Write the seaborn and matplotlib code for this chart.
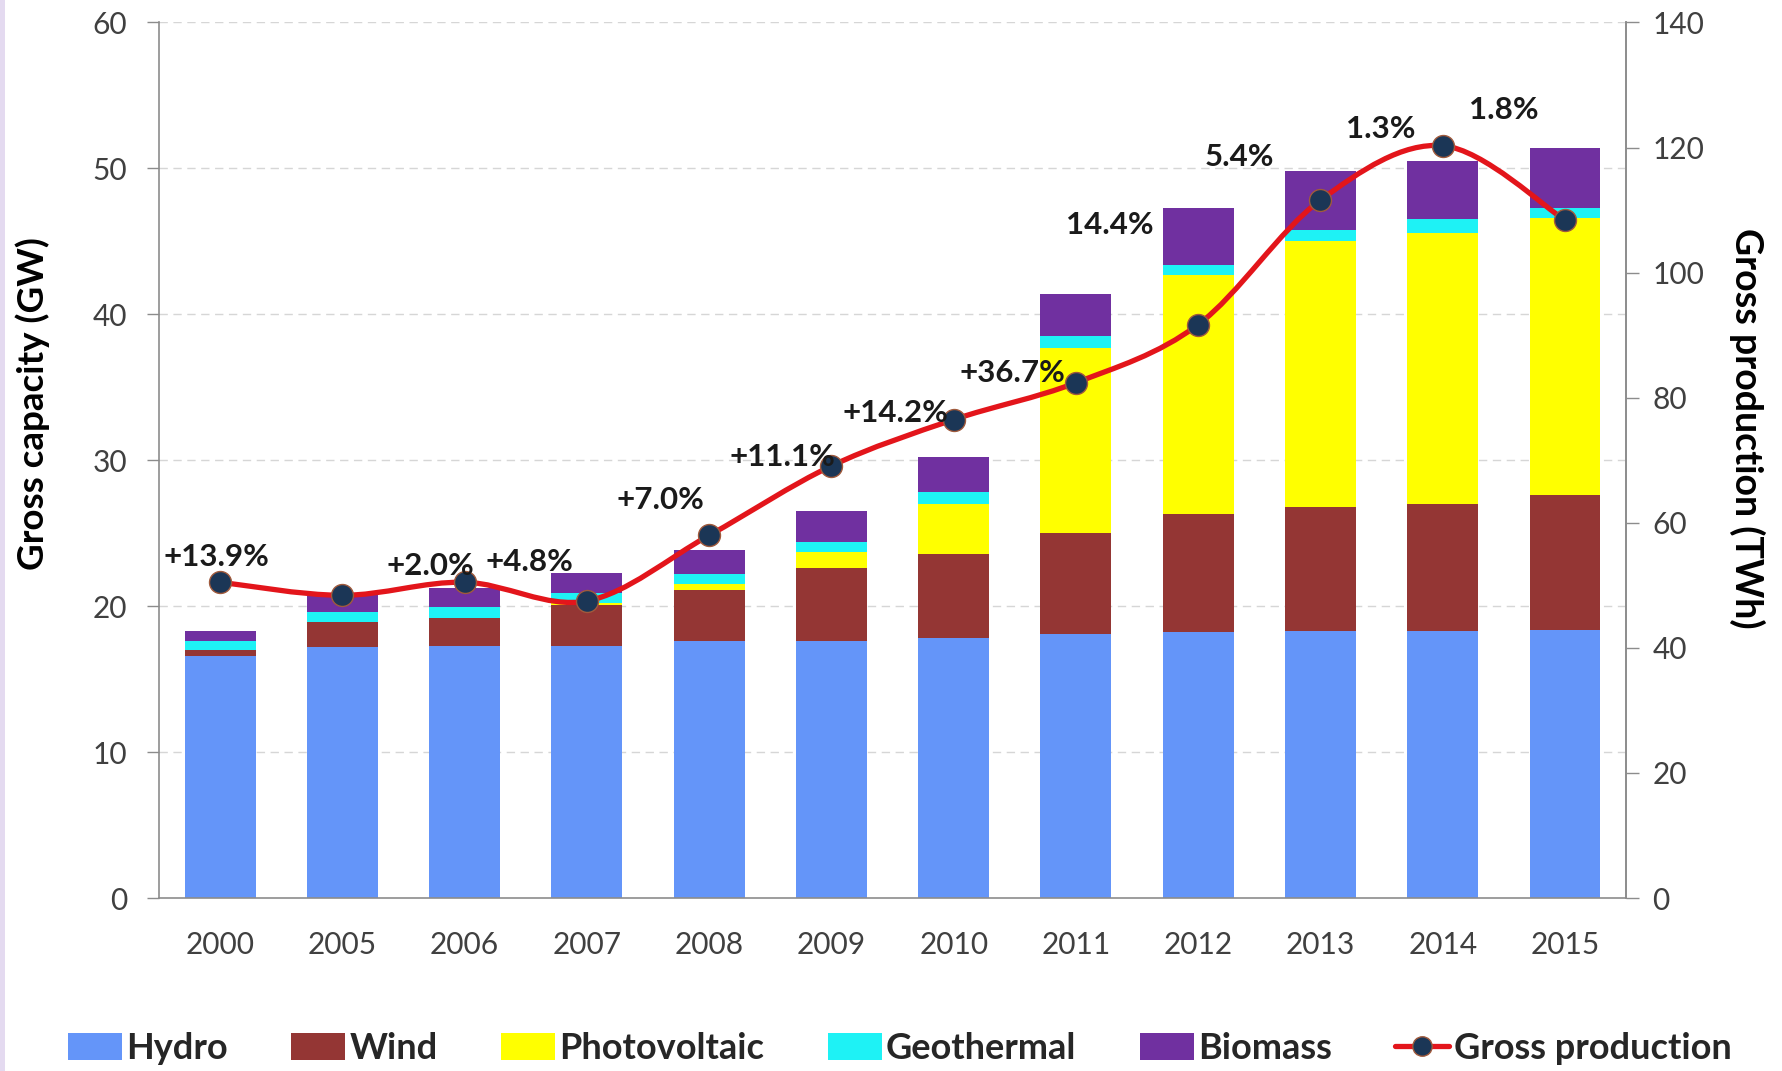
import numpy as np
import pandas as pd
import seaborn as sns
import matplotlib.pyplot as plt
from matplotlib.path import Path
from matplotlib.patches import PathPatch, Patch, Rectangle
from matplotlib.lines import Line2D

# Installed capacity by source (GW)
years = ["2000", "2005", "2006", "2007", "2008", "2009", "2010", "2011", "2012", "2013", "2014", "2015"]
hydro = [16.6, 17.2, 17.3, 17.3, 17.6, 17.6, 17.8, 18.1, 18.2, 18.3, 18.3, 18.4]
wind = [0.4, 1.7, 1.9, 2.8, 3.5, 5.0, 5.8, 6.9, 8.1, 8.5, 8.7, 9.2]
photovoltaic = [0.0, 0.0, 0.0, 0.1, 0.4, 1.1, 3.4, 12.7, 16.4, 18.2, 18.6, 19.0]
geothermal = [0.6, 0.7, 0.75, 0.7, 0.7, 0.7, 0.8, 0.8, 0.7, 0.8, 0.9, 0.7]
biomass = [0.7, 1.25, 1.3, 1.4, 1.65, 2.1, 2.45, 2.9, 3.9, 4.05, 4.0, 4.1]

# Gross production (TWh)
production = [50.5, 48.4, 50.5, 47.5, 58.0, 69.1, 76.5, 82.4, 91.7, 111.6, 120.3, 108.4]

# Growth annotations: text, x position (category units), y position (TWh)
growth_text = ["+13.9%", "+2.0%", "+4.8%", "+7.0%", "+11.1%", "+14.2%", "+36.7%",
               "14.4%", "5.4%", "1.3%", "1.8%"]
growth_x = [-0.03, 1.72, 2.53, 3.6, 4.6, 5.52, 6.48, 7.28, 8.34, 9.49, 10.5]
growth_y = [54.5, 53.1, 53.8, 63.6, 70.5, 77.5, 84.0, 107.6, 118.5, 123.0, 126.0]

sources = ["Hydro", "Wind", "Photovoltaic", "Geothermal", "Biomass"]
colors = {"Hydro": "#6495F9", "Wind": "#943634", "Photovoltaic": "#FFFF00",
          "Geothermal": "#1EF2F5", "Biomass": "#7030A0"}

sns.set_style("white")
plt.rcParams["font.family"] = ["Lato", "DejaVu Sans"]

df = pd.DataFrame({"year": years, "Hydro": hydro, "Wind": wind,
                   "Photovoltaic": photovoltaic, "Geothermal": geothermal,
                   "Biomass": biomass})
cum = df[sources].cumsum(axis=1)
cum["year"] = df["year"]

fig = plt.figure(figsize=(17.83, 10.71), dpi=100)
ax = fig.add_axes([0.0892, 0.1615, 0.8228, 0.8175])

# stacked bars: draw the tallest cumulative layer first
for src in reversed(sources):
    sns.barplot(data=cum, x="year", y=src, order=years, color=colors[src],
                width=0.58, saturation=1, ax=ax, linewidth=0, zorder=2)

ax.set_xlim(-0.5, 11.5)
ax.set_ylim(0, 60)
ax.set_yticks(range(0, 61, 10))
ax.set_xlabel("")
ax.set_ylabel("Gross capacity (GW)", fontsize=26.5, fontweight="bold", color="black")
ax.yaxis.set_label_coords(-0.074, 0.565)
ax.set_axisbelow(True)
for v in range(10, 61, 10):
    ax.axhline(v, color="#D6D6D6", lw=1.0, ls=(0, (6, 4)), zorder=0)

ax.tick_params(axis="y", direction="out", length=9, width=1, color="#8C8C8C",
               labelsize=21.5, labelcolor="#404040", pad=14, left=True)
ax.tick_params(axis="x", length=0, labelsize=21.5, labelcolor="#404040", pad=24)
ax.spines["top"].set_visible(False)
for s in ["left", "bottom", "right"]:
    ax.spines[s].set_color("#8C8C8C")
    ax.spines[s].set_linewidth(1.2)

# secondary axis for production
ax2 = ax.twinx()
ax2.set_ylim(0, 140)
ax2.set_yticks(range(0, 141, 20))
ax2.tick_params(axis="y", direction="out", length=9, width=1, color="#8C8C8C",
                labelsize=21.5, labelcolor="#404040", pad=10)
ax2.spines["top"].set_visible(False)
ax2.spines["left"].set_visible(False)
ax2.spines["bottom"].set_visible(False)
ax2.spines["right"].set_color("#8C8C8C")
ax2.spines["right"].set_linewidth(1.2)
ax2.set_ylabel("Gross production (TWh)", fontsize=27, fontweight="bold",
               color="black", rotation=-90)
ax2.yaxis.set_label_coords(1.095, 0.536)

# smoothed production curve (Catmull-Rom as cubic Bezier segments)
xs = np.arange(len(years), dtype=float)
pts = np.column_stack([xs, production])
verts = [tuple(pts[0])]
codes = [Path.MOVETO]
n = len(pts)
for i in range(n - 1):
    p0 = pts[max(i - 1, 0)]
    p1 = pts[i]
    p2 = pts[i + 1]
    p3 = pts[min(i + 2, n - 1)]
    c1 = p1 + (p2 - p0) / 6.0
    c2 = p2 - (p3 - p1) / 6.0
    verts += [tuple(c1), tuple(c2), tuple(p2)]
    codes += [Path.CURVE4] * 3
curve = PathPatch(Path(verts, codes), facecolor="none", edgecolor="#E3151B",
                  lw=3.8, zorder=3, capstyle="round", joinstyle="round")
ax2.add_patch(curve)
sns.scatterplot(x=xs, y=production, ax=ax2, s=250, color="#1B3656",
                edgecolor="#A05A3C", linewidth=1.0, zorder=4, legend=False)

for t, gx, gy in zip(growth_text, growth_x, growth_y):
    ax2.text(gx, gy, t, ha="center", va="center", fontsize=22.5,
             fontweight="bold", color="#1A1A1A", zorder=5)

# legend
handles = [Patch(facecolor=colors[s], edgecolor="none") for s in sources]
handles.append(Line2D([0], [0], color="#E3151B", lw=3.8, marker="o",
                      markersize=14, markerfacecolor="#1B3656",
                      markeredgecolor="#A05A3C"))
labels = sources + ["Gross production"]
fig.legend(handles, labels, loc="center", bbox_to_anchor=(0.5045, 0.021),
           ncol=6, frameon=False, prop={"size": 26, "weight": "bold"},
           handlelength=1.5, handleheight=0.75, handletextpad=0.12,
           columnspacing=1.75)

# thin lavender border on the left edge
fig.patches.append(Rectangle((0, 0), 5 / 1783, 1, transform=fig.transFigure,
                             facecolor="#E4DAF0", edgecolor="none"))

fig.savefig("out.png", dpi=100)
